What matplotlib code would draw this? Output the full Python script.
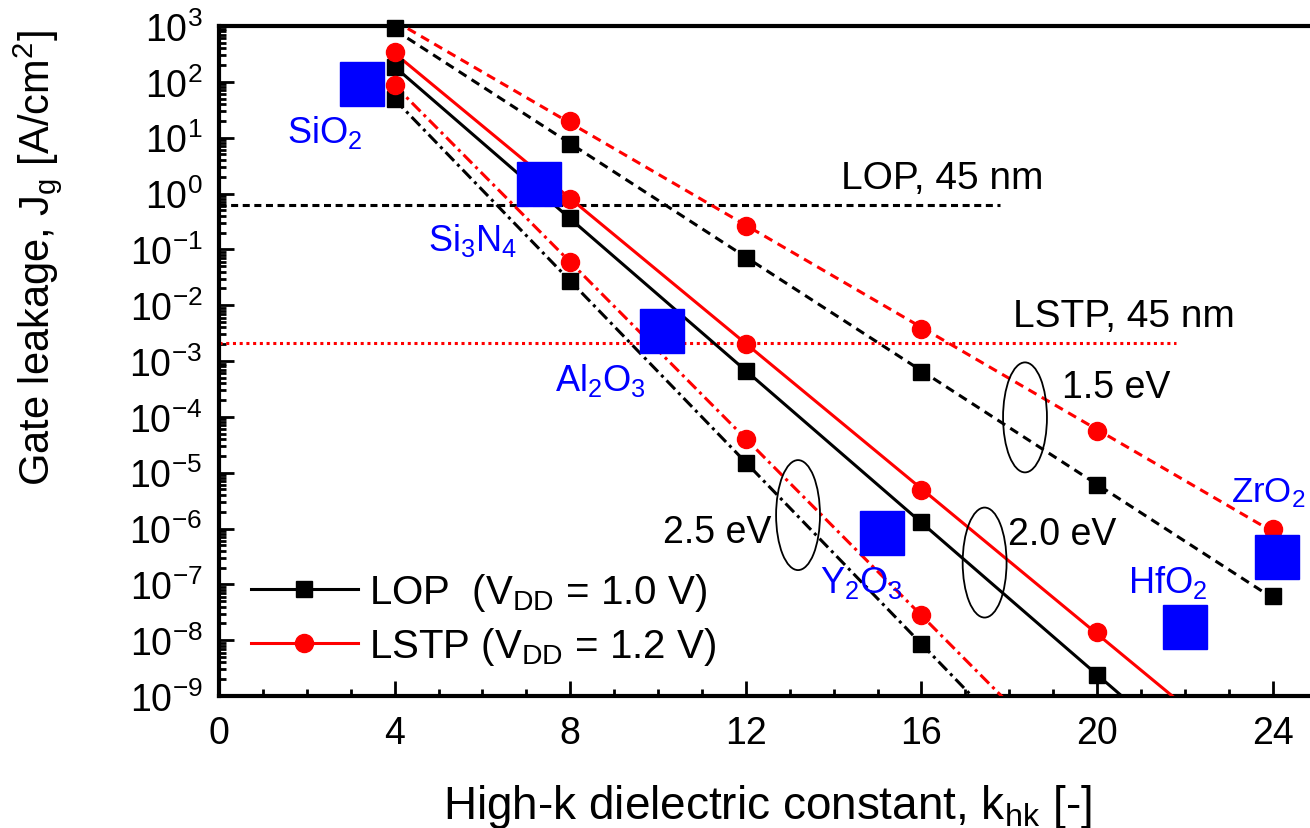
import numpy as np
import matplotlib
matplotlib.use("Agg")
import matplotlib.pyplot as plt
from matplotlib.lines import Line2D
from matplotlib.patches import Ellipse
from matplotlib.ticker import MultipleLocator, LogLocator, NullFormatter

plt.rcParams["font.family"] = ["Liberation Sans", "DejaVu Sans"]
plt.rcParams["mathtext.fontset"] = "custom"
plt.rcParams["mathtext.rm"] = "Liberation Sans"
plt.rcParams["mathtext.it"] = "Liberation Sans:italic"
plt.rcParams["mathtext.bf"] = "Liberation Sans:bold"
plt.rcParams["mathtext.sf"] = "Liberation Sans"

# ---- data -------------------------------------------------------------
# gate leakage vs. dielectric constant for three barrier heights
k_lop_15 = [4, 8, 12, 16, 20, 24]
j_lop_15 = [930, 7.7, 0.069, 6.3e-4, 5.9e-6, 6.3e-8]
k_lstp_15 = [8, 12, 16, 20, 24]
j_lstp_15 = [20, 0.26, 3.7e-3, 5.5e-5, 9.8e-7]

k_lop_20 = [4, 8, 12, 16, 20]
j_lop_20 = [185, 0.36, 6.6e-4, 1.3e-6, 2.4e-9]
k_lstp_20 = [4, 8, 12, 16, 20]
j_lstp_20 = [340, 0.8, 2.0e-3, 4.8e-6, 1.4e-8]

k_lop_25 = [4, 8, 12, 16]
j_lop_25 = [49, 0.027, 1.5e-5, 8.7e-9]
k_lstp_25 = [4, 8, 12, 16]
j_lstp_25 = [87, 0.059, 4.0e-5, 2.8e-8]

# ITRS 45 nm limits
lop_limit = 0.62
lstp_limit = 2.1e-3

# dielectric materials
materials = ["SiO$_2$", "Si$_3$N$_4$", "Al$_2$O$_3$", "Y$_2$O$_3$", "HfO$_2$", "ZrO$_2$"]
mat_k = [3.25, 7.3, 10.1, 15.1, 22.0, 24.1]
mat_j = [91, 1.45, 3.5e-3, 8.2e-7, 1.7e-8, 3.1e-7]

# ---- figure -----------------------------------------------------------
fig = plt.figure(figsize=(13.1, 8.29), dpi=100)
ax = fig.add_axes([219 / 1310, 132 / 829, 1097.5 / 1310, 670 / 829])
ax.set_yscale("log")
ax.set_xlim(0, 25)
ax.set_ylim(1e-9, 1e3)

LW = 2.2
styles = {
    "1.5": (0, (3, 2)),
    "2.0": "-",
    "2.5": (0, (4, 1.5, 1, 1.5)),
}

series = [
    (k_lop_15, j_lop_15, "black", "s", styles["1.5"]),
    (k_lstp_15, j_lstp_15, "red", "o", styles["1.5"]),
    (k_lop_20, j_lop_20, "black", "s", styles["2.0"]),
    (k_lstp_20, j_lstp_20, "red", "o", styles["2.0"]),
    (k_lop_25, j_lop_25, "black", "s", styles["2.5"]),
    (k_lstp_25, j_lstp_25, "red", "o", styles["2.5"]),
]

k_line = np.linspace(4, 24, 200)
for k, j, col, mk, ls in series:
    slope, icpt = np.polyfit(k, np.log10(j), 1)
    ax.plot(k_line, 10 ** (slope * k_line + icpt), color=col, lw=LW,
            ls=ls, zorder=3)
for k, j, col, mk, ls in series:
    ms = 12 if mk == "s" else 13
    ax.plot(k, j, ls="none", marker=mk, ms=ms, color=col, mec=col,
            zorder=4, clip_on=False)

# 45 nm limits
ax.plot([0, 17.8], [lop_limit, lop_limit], color="black", lw=LW,
        ls=(0, (2.3, 1.5)), zorder=2)
ax.plot([0, 21.8], [lstp_limit, lstp_limit], color="red", lw=LW,
        ls=(0, (1, 1.2)), zorder=2)
ax.text(14.17, 1.9, "LOP, 45 nm", fontsize=28, va="center", ha="left")
ax.text(18.09, 6.3e-3, "LSTP, 45 nm", fontsize=28, va="center", ha="left")

# materials
ax.plot(mat_k, mat_j, ls="none", marker="s", ms=31, color="#0000ff",
        mec="#0000ff", zorder=6)
label_pos = [(1.55, 8.3), (4.76, 0.098), (7.65, 3.0e-4), (13.69, 7.2e-8),
             (20.71, 7.2e-8), (23.05, 3.1e-6)]
label_size = [26, 26, 26, 26, 26, 25]
for name, (tx, ty), fs in zip(materials, label_pos, label_size):
    ax.text(tx, ty, name, color="#0000ff", fontsize=fs, ha="left",
            va="baseline", zorder=7)


# barrier height groups
def axes_frac(k, j):
    return k / 25.0, (np.log10(j) + 9) / 12.0


for kc, jc in [(18.36, 10 ** -4.01), (17.44, 10 ** -6.61), (13.19, 10 ** -5.76)]:
    ell = Ellipse(axes_frac(kc, jc), width=1.0 / 25.0, height=1.97 / 12.0,
                  transform=ax.transAxes, fill=False, ec="black", lw=1.3,
                  zorder=5)
    ax.add_patch(ell)

ax.text(19.2, 3.4e-4, "1.5 eV", fontsize=27, va="center", ha="left")
ax.text(17.97, 8.0e-7, "2.0 eV", fontsize=27, va="center", ha="left")
ax.text(10.11, 8.5e-7, "2.5 eV", fontsize=27, va="center", ha="left")

# legend
handles = [
    Line2D([], [], color="black", lw=LW, marker="s", ms=12),
    Line2D([], [], color="red", lw=LW, marker="o", ms=13),
]
labels = ["LOP  (V$_{\\mathrm{DD}}$ = 1.0 V)", "LSTP (V$_{\\mathrm{DD}}$ = 1.2 V)"]
ax.legend(handles, labels, loc="center left",
          bbox_to_anchor=(251 / 1310, 1 - 620 / 829),
          bbox_transform=fig.transFigure, frameon=False, fontsize=29,
          handlelength=2.65, handletextpad=0.28, labelspacing=0.3,
          borderpad=0, borderaxespad=0)

# axes styling
for side in ["left", "bottom", "top"]:
    ax.spines[side].set_linewidth(3)
ax.spines["right"].set_visible(False)

ax.xaxis.set_major_locator(MultipleLocator(4))
ax.xaxis.set_minor_locator(MultipleLocator(1))
ax.yaxis.set_major_locator(LogLocator(base=10, numticks=20))
ax.yaxis.set_minor_locator(LogLocator(base=10, subs=np.arange(2, 10), numticks=20))
ax.yaxis.set_minor_formatter(NullFormatter())
ax.tick_params(which="both", direction="in", top=False, right=False, width=2)
ax.tick_params(which="major", length=11)
ax.tick_params(which="minor", length=5)
ax.tick_params(axis="x", labelsize=27, pad=14)
ax.tick_params(axis="y", labelsize=27, pad=12)

ax.set_xlabel("High-k dielectric constant, k$_{\\mathrm{hk}}$ [-]", fontsize=33,
              labelpad=22)
ax.set_ylabel("Gate leakage, J$_{\\mathrm{g}}$ [A/cm$^{2}$]", fontsize=30)
ax.yaxis.label.set_verticalalignment("center")
ax.yaxis.set_label_coords(-181 / 1097.5, (697 - 258) / 670)

fig.savefig("out.png", dpi=100)
